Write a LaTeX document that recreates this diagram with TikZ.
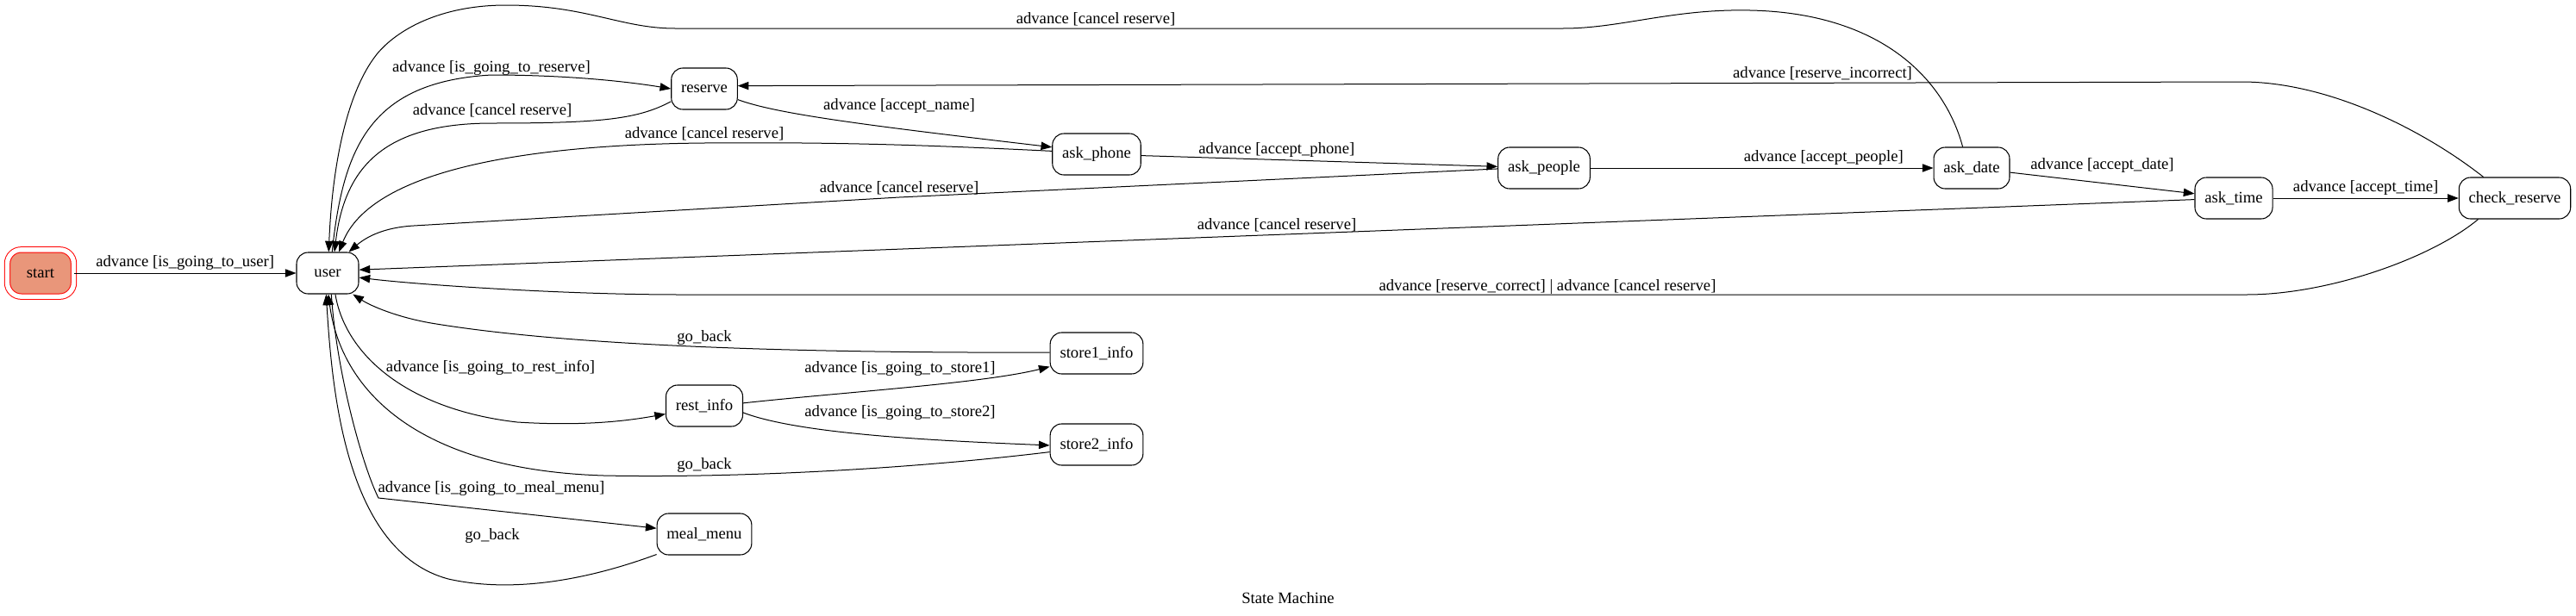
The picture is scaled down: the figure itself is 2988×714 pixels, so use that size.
\documentclass[tikz,border=0pt]{standalone}
\usepackage{fontspec}
\setmainfont{Liberation Serif}
\usetikzlibrary{arrows.meta}

\definecolor{startfill}{HTML}{E9967A}
\tikzset{
  state/.style={draw, rounded corners=10pt, minimum width=54pt, minimum height=36pt, inner xsep=8.5pt, line width=0.8pt},
  initstate/.style={state, draw=red, fill=startfill, double=white, double distance=4pt, line width=0.75pt, rounded corners=12pt, minimum width=57.75pt, minimum height=40.75pt},
  lbl/.style={inner sep=2pt}
}

\begin{document}
\begin{tikzpicture}[x=0.75pt, y=-0.75pt, >={Triangle[length=9.5pt, width=7pt]}, line width=0.75pt, font=\fontsize{14}{16}\selectfont]
    \useasboundingbox (0,0) rectangle (2988,714);

    \node[initstate] (start) at (47,317) {start};
    \node[state] (user) at (380,317) {user};
    \node[state] (reserve) at (817,103) {reserve};
    \node[state] (askphone) at (1272,179) {ask\_phone};
    \node[state] (askpeople) at (1791,195) {ask\_people};
    \node[state] (askdate) at (2287,195) {ask\_date};
    \node[state] (asktime) at (2591,230) {ask\_time};
    \node[state] (checkres) at (2917,230) {check\_reserve};
    \node[state] (restinfo) at (817,471) {rest\_info};
    \node[state] (storeone) at (1272,410) {store1\_info};
    \node[state] (storetwo) at (1272,516) {store2\_info};
    \node[state] (mealmenu) at (817,620) {meal\_menu};
    \node (title) at (1494,694) {State Machine};

    % From start
    \draw[->] (start) -- node[lbl, above] {advance [is\_going\_to\_user]} (user);

    % From user
    \draw[->] (user.78) .. controls (398,170) and (430,95) .. (570,87) .. controls (660,87) and (730,95) .. (reserve.west)
        node[lbl] at (570,79) {advance [is\_going\_to\_reserve]};
    \draw[->] (user.290) .. controls (400,410) and (470,475) .. (600,490) .. controls (680,495) and (730,488) .. (restinfo.192)
        node[lbl] at (569,427) {advance [is\_going\_to\_rest\_info]};
    \draw[->] (user.280) .. controls (390,430) and (420,540) .. (439,578) -- (mealmenu.173)
        node[lbl] at (570,567) {advance [is\_going\_to\_meal\_menu]};

    % From reserve
    \draw[->] (reserve.-18) .. controls (900,132) and (1000,145) .. (askphone.171)
        node[lbl] at (1043,123) {advance [accept\_name]};
    \draw[->] (reserve.201) .. controls (740,138) and (700,143) .. (571,143) .. controls (450,143) and (400,190) .. (user.72)
        node[lbl] at (571,128) {advance [cancel reserve]};

    % From ask_phone and ask_people
    \draw[->] (askphone.176) .. controls (1050,167) and (950,165) .. (817,166) .. controls (600,168) and (430,200) .. (user.62)
        node[lbl] at (817,155) {advance [cancel reserve]};
    \draw[->] (askphone) -- node[lbl, pos=0.38, above] {advance [accept\_phone]} (askpeople);
    \draw[->] (askpeople.181) -- (1043,229) -- (480,262) .. controls (445,264) and (425,275) .. (user.45)
        node[lbl] at (1043,218) {advance [cancel reserve]};
    \draw[->] (askpeople) -- node[lbl, pos=0.68, above] {advance [accept\_people]} (askdate);

    % From ask_date and ask_time
    \draw[->] (askdate.113) .. controls (2255,90) and (2180,15) .. (2030,12) .. controls (1940,10) and (1880,33) .. (1813,33)
        -- (783,33) .. controls (720,33) and (680,6) .. (587,6) .. controls (510,6) and (460,35) .. (437,63)
        .. controls (400,110) and (385,200) .. (user.87)
        node[lbl] at (1271,22) {advance [cancel reserve]};
    \draw[->] (askdate) -- node[lbl, midway, above=6.5pt] {advance [accept\_date]} (asktime);
    \draw[->] (asktime.182) -- node[lbl, midway, above] {advance [cancel reserve]} (user.6);
    \draw[->] (asktime) -- node[lbl, above] {advance [accept\_time]} (checkres);

    % From check_reserve
    \draw[->] (checkres.146) .. controls (2810,150) and (2700,95) .. (2600,95) -- (reserve.5)
        node[lbl] at (2114,85) {advance [reserve\_incorrect]};
    \draw[->] (checkres.210) .. controls (2820,300) and (2700,342) .. (2606,342) -- (789,342) .. controls (650,342) and (480,330) .. (user.352)
        node[lbl] at (1795,333) {advance [reserve\_correct] | advance [cancel reserve]};

    % From rest_info
    \draw[->] (restinfo.4) .. controls (980,455) and (1140,445) .. (storeone.196)
        node[lbl] at (1044,428) {advance [is\_going\_to\_store1]};
    \draw[->] (restinfo.-10) .. controls (930,505) and (1100,512) .. (storetwo.181)
        node[lbl] at (1044,479) {advance [is\_going\_to\_store2]};

    % Going back
    \draw[->] (storeone.179) .. controls (900,410) and (650,400) .. (500,375) .. controls (460,368) and (430,355) .. (user.-40)
        node[lbl] at (817,392) {go\_back};
    \draw[->] (storetwo.189) .. controls (1050,545) and (850,555) .. (700,552) .. controls (480,545) and (395,450) .. (user.272)
        node[lbl] at (817,540) {go\_back};
    \draw[->] (mealmenu.203) .. controls (690,670) and (600,690) .. (520,672) .. controls (400,640) and (385,450) .. (user.266)
        node[lbl] at (571,622) {go\_back};
\end{tikzpicture}
\end{document}
